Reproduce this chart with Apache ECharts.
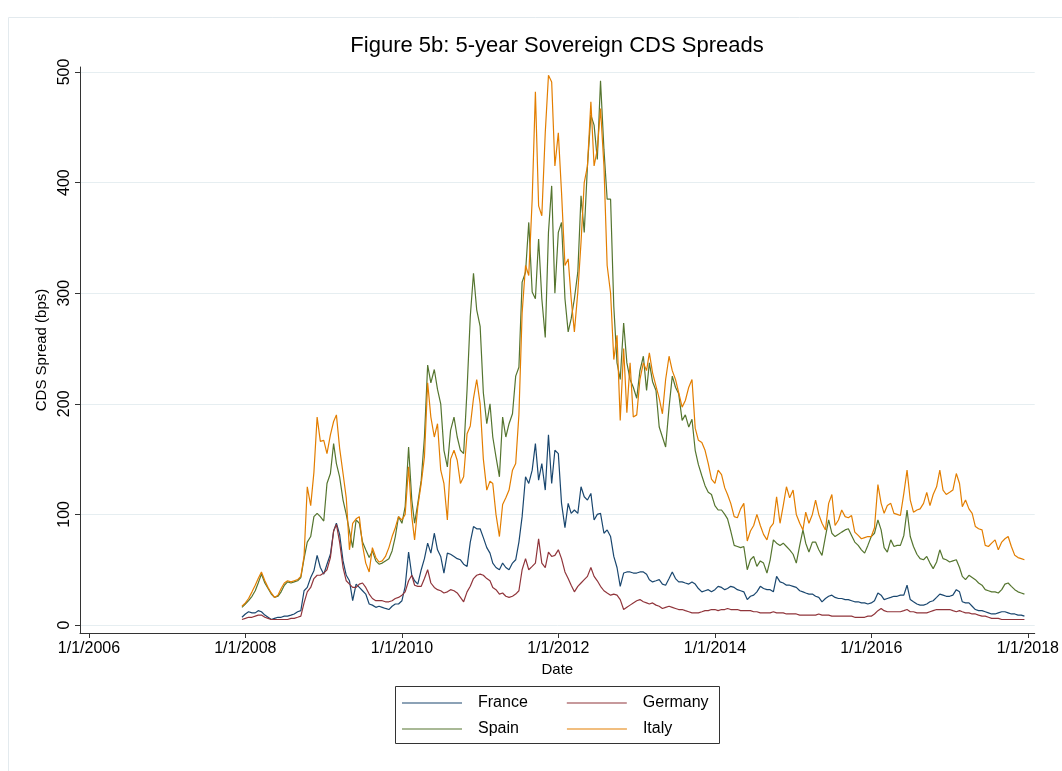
<!DOCTYPE html>
<html>
<head>
<meta charset="utf-8">
<title>5-year Sovereign CDS Spreads</title>
<script src="https://cdn.jsdelivr.net/npm/echarts@6/dist/echarts.min.js"></script>
<style>
  html, body { margin: 0; padding: 0; background: #ffffff; }
  #chart { width: 1062px; height: 771px; }
</style>
</head>
<body>
<div id="chart"></div>
<script>
// Semi-monthly observations, 16 Dec 2007 through 16 Dec 2017 (1st and 16th of each month)
const firstDate = '2007-12-16';
const dates = [firstDate];
for (let y = 2008; y <= 2017; y++) {
  for (let m = 1; m <= 12; m++) {
    const mm = String(m).padStart(2, '0');
    dates.push(`${y}-${mm}-01`, `${y}-${mm}-16`);
  }
}

// 5-year sovereign CDS spreads in basis points, one row per year (first value is Dec 2007)
const france = [7,
  10, 12, 11, 11, 13, 12, 9, 7, 5, 6, 7, 7, 8, 8, 9, 10, 12, 13, 31, 34, 43, 49, 63, 52,
  46, 55, 64, 85, 92, 82, 58, 45, 40, 22, 37, 34, 31, 28, 19, 18, 16, 17, 16, 15, 14, 17, 19, 19,
  22, 35, 66, 45, 40, 37, 50, 60, 74, 65, 83, 68, 62, 47, 65, 64, 62, 60, 59, 55, 53, 75, 89, 87,
  87, 79, 70, 65, 56, 52, 50, 56, 52, 50, 56, 59, 75, 98, 134, 128, 140, 164, 131, 146, 122, 172, 128, 158,
  155, 110, 88, 110, 101, 104, 101, 125, 116, 113, 119, 95, 100, 101, 83, 86, 80, 62, 52, 35, 47, 48, 48, 47,
  47, 48, 48, 46, 41, 39, 40, 41, 37, 36, 42, 48, 42, 39, 39, 38, 37, 39, 37, 33, 30, 31, 32, 30,
  32, 35, 34, 32, 33, 35, 34, 32, 31, 30, 23, 26, 27, 30, 35, 33, 32, 32, 30, 44, 39, 38, 36, 36,
  35, 34, 31, 30, 29, 28, 28, 26, 25, 21, 24, 26, 27, 25, 24, 24, 23, 23, 22, 21, 21, 20, 20, 19,
  20, 22, 29, 27, 23, 24, 25, 26, 26, 27, 27, 36, 23, 21, 19, 18, 18, 19, 21, 22, 25, 28, 27, 26,
  26, 27, 32, 30, 21, 20, 20, 17, 14, 13, 13, 12, 11, 10, 10, 11, 12, 12, 11, 10, 10, 9, 9, 8
];

const germany = [5,
  6, 7, 7, 8, 9, 9, 7, 6, 5, 5, 5, 5, 5, 5, 6, 6, 7, 8, 20, 30, 34, 42, 45, 45,
  47, 50, 61, 85, 91, 75, 52, 40, 37, 34, 34, 37, 38, 34, 28, 24, 22, 22, 22, 21, 21, 22, 24, 25,
  27, 30, 40, 45, 36, 35, 35, 42, 50, 38, 34, 32, 31, 29, 30, 32, 31, 29, 25, 21, 30, 35, 42, 45,
  46, 45, 42, 40, 34, 32, 28, 29, 26, 25, 26, 28, 31, 50, 60, 50, 53, 56, 78, 56, 52, 66, 62, 63,
  68, 60, 48, 42, 36, 30, 35, 38, 41, 44, 52, 44, 40, 35, 31, 29, 27, 28, 27, 23, 14, 16, 18, 20,
  22, 23, 21, 20, 19, 20, 18, 17, 15, 16, 17, 16, 15, 14, 14, 13, 12, 11, 11, 11, 12, 13, 13, 14,
  14, 13, 14, 14, 15, 14, 14, 14, 13, 13, 13, 13, 12, 12, 11, 11, 11, 11, 12, 11, 11, 11, 10, 10,
  10, 10, 9, 9, 9, 9, 9, 9, 10, 9, 9, 9, 8, 8, 8, 8, 8, 8, 8, 7, 7, 7, 7, 8,
  8, 10, 13, 15, 13, 12, 12, 12, 12, 12, 13, 14, 12, 12, 11, 11, 11, 11, 12, 13, 14, 14, 14, 14,
  14, 13, 12, 13, 12, 11, 11, 10, 10, 9, 8, 8, 7, 6, 6, 6, 5, 5, 5, 5, 5, 5, 5, 5
];

const spain = [16,
  19, 22, 26, 31, 38, 46, 38, 33, 28, 25, 26, 30, 36, 39, 38, 39, 40, 43, 60, 75, 80, 98, 101, 98,
  94, 128, 137, 164, 146, 134, 113, 100, 85, 70, 95, 92, 75, 68, 61, 67, 58, 55, 56, 58, 60, 67, 80, 98,
  92, 107, 161, 113, 92, 110, 131, 170, 235, 219, 231, 213, 200, 158, 143, 176, 188, 170, 158, 155, 213, 279, 318, 285,
  270, 210, 182, 200, 170, 152, 134, 188, 170, 182, 191, 225, 233, 310, 319, 364, 301, 295, 349, 295, 260, 355, 397, 300,
  355, 364, 295, 265, 277, 295, 319, 388, 355, 415, 461, 452, 421, 492, 430, 385, 385, 288, 237, 222, 273, 237, 222, 215,
  205, 230, 243, 212, 237, 220, 212, 179, 170, 161, 197, 225, 215, 209, 185, 190, 179, 186, 158, 145, 135, 126, 120, 118,
  108, 104, 104, 100, 96, 85, 72, 71, 70, 71, 50, 59, 62, 53, 58, 56, 47, 59, 77, 74, 72, 74, 71, 68,
  64, 56, 72, 86, 74, 66, 75, 75, 68, 63, 80, 95, 83, 80, 82, 84, 86, 87, 81, 75, 72, 68, 65, 72,
  80, 83, 95, 86, 70, 66, 77, 71, 72, 72, 81, 104, 80, 71, 64, 60, 59, 62, 56, 51, 57, 68, 60, 59,
  57, 58, 59, 52, 44, 41, 45, 43, 41, 38, 36, 32, 31, 30, 30, 29, 32, 37, 38, 35, 32, 30, 29, 28
];

const italy = [17,
  20, 24, 30, 36, 42, 48, 40, 34, 29, 25, 27, 33, 38, 40, 39, 40, 41, 44, 62, 125, 108, 138, 188, 166,
  167, 155, 172, 184, 190, 160, 137, 115, 68, 92, 96, 98, 72, 56, 48, 70, 61, 57, 58, 62, 70, 80, 88, 98,
  95, 100, 143, 98, 77, 107, 128, 152, 219, 188, 170, 182, 140, 128, 95, 150, 158, 149, 128, 134, 173, 180, 205, 222,
  200, 150, 122, 130, 128, 100, 80, 109, 115, 122, 140, 146, 190, 282, 325, 316, 385, 482, 379, 370, 445, 497, 491, 415,
  445, 391, 325, 331, 295, 265, 301, 346, 400, 415, 473, 415, 430, 467, 415, 325, 300, 240, 262, 185, 250, 192, 237, 188,
  190, 222, 237, 230, 246, 228, 216, 205, 191, 222, 243, 230, 222, 210, 197, 203, 215, 222, 178, 167, 165, 158, 146, 132,
  128, 140, 136, 124, 118, 110, 98, 97, 105, 110, 76, 85, 90, 100, 90, 82, 77, 88, 92, 116, 92, 108, 125, 115,
  122, 100, 92, 86, 102, 92, 100, 113, 100, 92, 86, 110, 118, 90, 95, 104, 98, 97, 99, 84, 81, 78, 79, 80,
  80, 88, 127, 110, 101, 108, 110, 101, 100, 99, 119, 140, 113, 102, 104, 105, 110, 120, 108, 118, 125, 140, 122, 118,
  120, 122, 137, 128, 107, 113, 105, 101, 89, 87, 86, 72, 71, 74, 77, 68, 75, 78, 80, 71, 63, 61, 60, 59
];

// Axis ticks
const xTickDates = ['2006-01-01', '2008-01-01', '2010-01-01', '2012-01-01', '2014-01-01', '2016-01-01', '2018-01-01'];
const xTickLabels = ['1/1/2006', '1/1/2008', '1/1/2010', '1/1/2012', '1/1/2014', '1/1/2016', '1/1/2018'];
const yTicks = [0, 100, 200, 300, 400, 500];

const countries = ['France', 'Germany', 'Spain', 'Italy'];
const seriesValues = [france, germany, spain, italy];
const colors = ['#1a476f', '#90353b', '#55752f', '#e37e00'];

// Dates are placed on a numeric axis as UTC millisecond timestamps
const toTime = s => {
  const [y, m, d] = s.split('-').map(Number);
  return Date.UTC(y, m - 1, d);
};
const xTickTimes = xTickDates.map(toTime);

const FONT = '"Liberation Sans", Arial, Helvetica, sans-serif';

const chart = echarts.init(document.getElementById('chart'), null, { renderer: 'canvas' });

const legendCommon = {
  left: 402, padding: 0,
  icon: 'rect',
  itemWidth: 60, itemHeight: 1.2,
  textStyle: { fontFamily: FONT, fontSize: 16, color: '#000', lineHeight: 18, padding: [0, 0, 0, 11] },
  selectedMode: false
};

const option = {
  backgroundColor: '#ffffff',
  animation: false,
  textStyle: { fontFamily: FONT, color: '#000' },
  color: colors,
  graphic: [
    {
      type: 'rect',
      shape: { x: 8.5, y: 17.5, width: 1060, height: 760 },
      style: { fill: 'none', stroke: '#e3eaee', lineWidth: 1 },
      silent: true, z: -10
    },
    {
      type: 'text',
      x: 557, y: 46,
      style: {
        text: 'Figure 5b: 5-year Sovereign CDS Spreads',
        fontFamily: FONT, fontSize: 22, fill: '#000',
        align: 'center', verticalAlign: 'middle'
      }
    },
    {
      type: 'rect',
      shape: { x: 395.5, y: 686.5, width: 324, height: 57 },
      style: { fill: 'none', stroke: '#333', lineWidth: 1 },
      silent: true
    }
  ],
  grid: { left: 80, right: 27, top: 67, bottom: 138, containLabel: false },
  legend: [
    Object.assign({}, legendCommon, { data: ['France', 'Germany'], top: 694, itemGap: 39 }),
    Object.assign({}, legendCommon, { data: ['Spain', 'Italy'], top: 720, itemGap: 48 })
  ],
  xAxis: {
    type: 'value',
    min: toTime('2005-11-20'),
    max: toTime('2018-02-02'),
    name: 'Date',
    nameLocation: 'middle',
    nameGap: 28,
    nameTextStyle: { fontFamily: FONT, fontSize: 15, color: '#000' },
    axisLine: { show: true, onZero: false, lineStyle: { color: '#333', width: 1 } },
    axisTick: { show: true, length: 5, customValues: xTickTimes, lineStyle: { color: '#333' } },
    axisLabel: {
      customValues: xTickTimes,
      fontFamily: FONT, fontSize: 16, color: '#000', margin: 8,
      formatter: v => {
        const i = xTickTimes.indexOf(v);
        return i >= 0 ? xTickLabels[i] : '';
      }
    },
    splitLine: { show: false }
  },
  yAxis: {
    type: 'value',
    // the axis runs a little past the 0 and 500 ticks, as the plot region has a margin
    min: -7.2,
    max: 504.5,
    name: 'CDS Spread (bps)',
    nameLocation: 'middle',
    nameGap: 27,
    nameRotate: 90,
    nameTextStyle: { fontFamily: FONT, fontSize: 15, color: '#000' },
    axisLine: { show: true, onZero: false, lineStyle: { color: '#333', width: 1 } },
    axisTick: { show: true, length: 5, customValues: yTicks, lineStyle: { color: '#333' } },
    axisLabel: { customValues: yTicks, rotate: 90, fontFamily: FONT, fontSize: 16, color: '#000', margin: 7 },
    splitLine: { show: true, lineStyle: { color: '#e6eef1', width: 1 } }
  },
  series: countries.map((name, k) => ({
    name,
    type: 'line',
    symbol: 'none',
    lineStyle: { width: 1.2, color: colors[k] },
    itemStyle: { color: colors[k] },
    data: dates.map((d, i) => [toTime(d), seriesValues[k][i]]),
    z: 2 + k
  }))
};

chart.setOption(option);
</script>
</body>
</html>
